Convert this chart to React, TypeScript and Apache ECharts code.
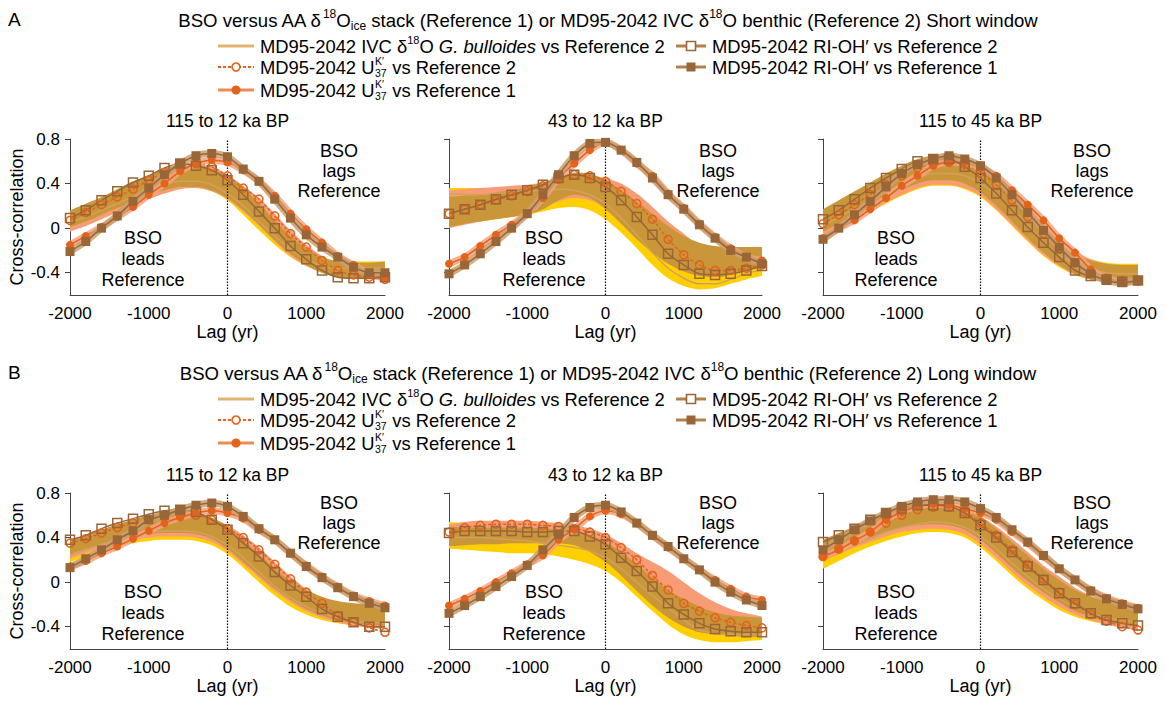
import React, { useEffect, useRef } from "react";
import * as echarts from "echarts";

const LAGS = [-2000, -1800, -1600, -1400, -1200, -1000, -800, -600, -400, -200, 0, 200, 400, 600, 800, 1000, 1200, 1400, 1600, 1800, 2000];

// ---------- A: short window, 115 to 12 ka BP ----------
const A1_R1 = [-0.21, -0.12, 0.0, 0.11, 0.24, 0.36, 0.48, 0.58, 0.65, 0.67, 0.64, 0.53, 0.42, 0.26, 0.09, -0.06, -0.17, -0.26, -0.35, -0.4, -0.4];
const A1_U1 = [-0.15, -0.07, 0.01, 0.1, 0.19, 0.3, 0.4, 0.51, 0.58, 0.61, 0.59, 0.52, 0.42, 0.29, 0.13, -0.01, -0.13, -0.25, -0.33, -0.41, -0.45];
const A1_R2 = [0.09, 0.16, 0.25, 0.33, 0.41, 0.47, 0.54, 0.58, 0.56, 0.52, 0.43, 0.3, 0.15, 0.0, -0.16, -0.28, -0.38, -0.44, -0.45, -0.45, -0.44];
const A1_U2 = [0.07, 0.14, 0.21, 0.28, 0.35, 0.43, 0.5, 0.55, 0.58, 0.55, 0.47, 0.36, 0.26, 0.11, -0.05, -0.17, -0.29, -0.38, -0.42, -0.44, -0.46];
const A1_GB = [0.05, 0.1, 0.16, 0.22, 0.28, 0.34, 0.39, 0.42, 0.42, 0.39, 0.31, 0.2, 0.06, -0.07, -0.19, -0.28, -0.34, -0.36, -0.36, -0.36, -0.36];
const A1_YLO = [0.0, 0.05, 0.1, 0.16, 0.22, 0.28, 0.33, 0.36, 0.36, 0.33, 0.25, 0.12, -0.02, -0.15, -0.26, -0.34, -0.39, -0.41, -0.42, -0.42, -0.42];
const A1_YHI = [0.1, 0.16, 0.22, 0.28, 0.34, 0.4, 0.45, 0.48, 0.48, 0.45, 0.38, 0.28, 0.15, 0.01, -0.12, -0.22, -0.28, -0.3, -0.3, -0.3, -0.3];
const A1_SLO = [-0.03, 0.02, 0.08, 0.14, 0.2, 0.26, 0.31, 0.35, 0.36, 0.33, 0.26, 0.15, 0.02, -0.12, -0.25, -0.34, -0.4, -0.44, -0.45, -0.46, -0.46];
const A1_SHI = [0.12, 0.18, 0.24, 0.31, 0.38, 0.44, 0.5, 0.55, 0.57, 0.55, 0.48, 0.38, 0.27, 0.13, -0.02, -0.15, -0.25, -0.32, -0.35, -0.36, -0.36];
const A1_GLO = [0.01, 0.06, 0.12, 0.18, 0.24, 0.3, 0.34, 0.37, 0.37, 0.34, 0.27, 0.16, 0.03, -0.11, -0.23, -0.33, -0.4, -0.44, -0.45, -0.45, -0.44];
const A1_GHI = [0.16, 0.22, 0.28, 0.35, 0.42, 0.47, 0.53, 0.57, 0.57, 0.53, 0.46, 0.36, 0.22, 0.07, -0.07, -0.18, -0.26, -0.3, -0.31, -0.31, -0.3];

// ---------- A: short window, 43 to 12 ka BP ----------
const A2_R1 = [-0.41, -0.33, -0.23, -0.12, 0.0, 0.13, 0.3, 0.48, 0.65, 0.76, 0.77, 0.7, 0.59, 0.45, 0.3, 0.17, 0.03, -0.09, -0.2, -0.26, -0.32];
const A2_U1 = [-0.32, -0.26, -0.16, -0.06, 0.03, 0.13, 0.27, 0.45, 0.58, 0.7, 0.77, 0.7, 0.58, 0.47, 0.31, 0.18, 0.04, -0.08, -0.18, -0.26, -0.29];
const A2_R2 = [0.13, 0.17, 0.21, 0.26, 0.3, 0.34, 0.39, 0.45, 0.48, 0.45, 0.37, 0.25, 0.1, -0.06, -0.23, -0.33, -0.41, -0.42, -0.41, -0.38, -0.34];
const A2_U2 = [0.13, 0.17, 0.21, 0.25, 0.29, 0.33, 0.38, 0.44, 0.48, 0.47, 0.42, 0.33, 0.22, 0.08, -0.1, -0.24, -0.33, -0.38, -0.38, -0.36, -0.33];
const A2_GB = [0.31, 0.3, 0.3, 0.31, 0.32, 0.33, 0.34, 0.35, 0.34, 0.3, 0.22, 0.09, -0.06, -0.22, -0.36, -0.45, -0.5, -0.5, -0.46, -0.41, -0.37];
const A2_YLO = [0.03, 0.05, 0.06, 0.08, 0.1, 0.12, 0.15, 0.18, 0.19, 0.16, 0.08, -0.04, -0.18, -0.33, -0.45, -0.52, -0.55, -0.54, -0.5, -0.46, -0.43];
const A2_YHI = [0.36, 0.36, 0.36, 0.36, 0.36, 0.37, 0.38, 0.4, 0.42, 0.4, 0.34, 0.24, 0.12, 0.0, -0.12, -0.22, -0.3, -0.33, -0.33, -0.3, -0.26];
const A2_SLO = [0.0, 0.03, 0.06, 0.09, 0.12, 0.15, 0.19, 0.24, 0.27, 0.25, 0.18, 0.07, -0.06, -0.18, -0.29, -0.36, -0.4, -0.41, -0.4, -0.37, -0.34];
const A2_SHI = [0.34, 0.35, 0.36, 0.37, 0.38, 0.39, 0.41, 0.44, 0.47, 0.47, 0.45, 0.4, 0.31, 0.19, 0.06, -0.05, -0.16, -0.23, -0.26, -0.26, -0.25];
const A2_GLO = [0.01, 0.04, 0.06, 0.08, 0.1, 0.12, 0.17, 0.25, 0.3, 0.27, 0.17, 0.04, -0.1, -0.22, -0.32, -0.39, -0.43, -0.44, -0.42, -0.38, -0.35];
const A2_GHI = [0.28, 0.29, 0.3, 0.32, 0.34, 0.37, 0.41, 0.46, 0.5, 0.49, 0.43, 0.34, 0.24, 0.13, 0.02, -0.07, -0.13, -0.16, -0.17, -0.17, -0.17];

// ---------- A: short window, 115 to 45 ka BP ----------
const A3_R1 = [-0.1, 0.0, 0.12, 0.24, 0.37, 0.49, 0.57, 0.62, 0.65, 0.62, 0.56, 0.45, 0.3, 0.14, -0.02, -0.17, -0.31, -0.41, -0.47, -0.49, -0.47];
const A3_U1 = [-0.09, 0.0, 0.07, 0.17, 0.27, 0.38, 0.47, 0.56, 0.59, 0.59, 0.54, 0.47, 0.34, 0.21, 0.07, -0.09, -0.22, -0.37, -0.45, -0.48, -0.48];
const A3_R2 = [0.08, 0.16, 0.26, 0.36, 0.45, 0.53, 0.6, 0.62, 0.62, 0.55, 0.45, 0.31, 0.16, 0.01, -0.13, -0.26, -0.38, -0.43, -0.46, -0.48, -0.47];
const A3_U2 = [0.04, 0.12, 0.21, 0.3, 0.39, 0.47, 0.54, 0.58, 0.59, 0.57, 0.5, 0.39, 0.25, 0.1, -0.05, -0.19, -0.31, -0.4, -0.45, -0.47, -0.47];
const A3_GB = [0.02, 0.1, 0.17, 0.25, 0.32, 0.39, 0.45, 0.49, 0.49, 0.47, 0.4, 0.3, 0.17, 0.03, -0.12, -0.24, -0.32, -0.37, -0.4, -0.41, -0.41];
const A3_YLO = [-0.06, 0.01, 0.08, 0.15, 0.22, 0.29, 0.35, 0.38, 0.38, 0.35, 0.28, 0.16, 0.02, -0.12, -0.25, -0.35, -0.42, -0.46, -0.48, -0.49, -0.49];
const A3_YHI = [0.1, 0.18, 0.26, 0.34, 0.42, 0.49, 0.55, 0.59, 0.6, 0.58, 0.52, 0.43, 0.31, 0.17, 0.02, -0.12, -0.22, -0.28, -0.31, -0.32, -0.32];
const A3_SLO = [-0.05, 0.02, 0.09, 0.16, 0.23, 0.3, 0.36, 0.39, 0.39, 0.36, 0.29, 0.17, 0.03, -0.11, -0.24, -0.34, -0.42, -0.46, -0.48, -0.49, -0.49];
const A3_SHI = [0.12, 0.2, 0.28, 0.36, 0.44, 0.51, 0.57, 0.61, 0.62, 0.6, 0.54, 0.45, 0.33, 0.2, 0.06, -0.08, -0.2, -0.28, -0.32, -0.34, -0.35];
const A3_GLO = [-0.03, 0.04, 0.11, 0.19, 0.27, 0.34, 0.4, 0.43, 0.43, 0.4, 0.32, 0.2, 0.06, -0.09, -0.22, -0.33, -0.41, -0.46, -0.48, -0.5, -0.5];
const A3_GHI = [0.17, 0.25, 0.33, 0.41, 0.49, 0.56, 0.62, 0.65, 0.65, 0.62, 0.55, 0.44, 0.3, 0.15, 0.0, -0.13, -0.23, -0.29, -0.32, -0.33, -0.33];

// ---------- B: long window, 115 to 12 ka BP ----------
const B1_R1 = [0.13, 0.21, 0.29, 0.38, 0.46, 0.56, 0.6, 0.65, 0.69, 0.71, 0.68, 0.59, 0.48, 0.38, 0.26, 0.14, 0.04, -0.05, -0.13, -0.19, -0.23];
const B1_U1 = [0.14, 0.19, 0.26, 0.32, 0.39, 0.46, 0.53, 0.58, 0.62, 0.64, 0.62, 0.57, 0.47, 0.38, 0.26, 0.15, 0.05, -0.04, -0.12, -0.17, -0.21];
const B1_R2 = [0.38, 0.42, 0.48, 0.53, 0.57, 0.61, 0.64, 0.65, 0.63, 0.56, 0.47, 0.35, 0.23, 0.09, -0.03, -0.13, -0.24, -0.31, -0.36, -0.4, -0.4];
const B1_U2 = [0.35, 0.39, 0.44, 0.49, 0.53, 0.56, 0.59, 0.6, 0.6, 0.56, 0.48, 0.4, 0.29, 0.16, 0.03, -0.09, -0.19, -0.3, -0.36, -0.41, -0.45];
const B1_GB = [0.24, 0.29, 0.34, 0.38, 0.42, 0.44, 0.46, 0.46, 0.45, 0.41, 0.33, 0.22, 0.09, -0.04, -0.14, -0.22, -0.28, -0.32, -0.35, -0.36, -0.37];
const B1_YLO = [0.18, 0.23, 0.28, 0.32, 0.35, 0.37, 0.38, 0.38, 0.37, 0.33, 0.25, 0.13, 0.0, -0.12, -0.22, -0.29, -0.34, -0.37, -0.39, -0.4, -0.41];
const B1_YHI = [0.3, 0.35, 0.4, 0.45, 0.49, 0.52, 0.54, 0.55, 0.54, 0.5, 0.42, 0.31, 0.18, 0.05, -0.06, -0.15, -0.22, -0.27, -0.3, -0.32, -0.33];
const B1_SLO = [0.21, 0.26, 0.31, 0.35, 0.38, 0.4, 0.41, 0.41, 0.4, 0.36, 0.28, 0.16, 0.04, -0.08, -0.18, -0.26, -0.32, -0.36, -0.39, -0.41, -0.42];
const B1_SHI = [0.36, 0.41, 0.46, 0.51, 0.55, 0.58, 0.61, 0.62, 0.62, 0.58, 0.51, 0.42, 0.31, 0.18, 0.05, -0.06, -0.14, -0.2, -0.24, -0.27, -0.29];
const B1_GLO = [0.25, 0.3, 0.34, 0.38, 0.41, 0.43, 0.44, 0.44, 0.43, 0.39, 0.3, 0.18, 0.06, -0.06, -0.16, -0.24, -0.3, -0.34, -0.37, -0.38, -0.39];
const B1_GHI = [0.38, 0.42, 0.47, 0.52, 0.56, 0.6, 0.63, 0.64, 0.63, 0.58, 0.5, 0.38, 0.25, 0.12, 0.01, -0.07, -0.13, -0.17, -0.19, -0.2, -0.21];

// ---------- B: long window, 43 to 12 ka BP ----------
const B2_R1 = [-0.28, -0.21, -0.13, -0.04, 0.05, 0.15, 0.29, 0.43, 0.58, 0.67, 0.69, 0.63, 0.53, 0.42, 0.32, 0.21, 0.11, 0.0, -0.09, -0.16, -0.21];
const B2_U1 = [-0.21, -0.15, -0.08, 0.0, 0.08, 0.16, 0.24, 0.38, 0.48, 0.59, 0.64, 0.61, 0.53, 0.42, 0.31, 0.21, 0.11, 0.02, -0.06, -0.13, -0.16];
const B2_R2 = [0.44, 0.46, 0.46, 0.46, 0.46, 0.45, 0.45, 0.46, 0.46, 0.41, 0.34, 0.22, 0.1, -0.04, -0.19, -0.29, -0.37, -0.42, -0.44, -0.45, -0.45];
const B2_U2 = [0.45, 0.49, 0.51, 0.52, 0.52, 0.52, 0.51, 0.5, 0.48, 0.45, 0.4, 0.31, 0.2, 0.06, -0.07, -0.19, -0.26, -0.32, -0.36, -0.39, -0.41];
const B2_GB = [0.4, 0.4, 0.4, 0.39, 0.38, 0.37, 0.35, 0.33, 0.31, 0.28, 0.22, 0.12, 0.0, -0.12, -0.23, -0.34, -0.43, -0.46, -0.47, -0.47, -0.47];
const B2_YLO = [0.3, 0.29, 0.28, 0.27, 0.26, 0.26, 0.25, 0.23, 0.2, 0.16, 0.1, 0.0, -0.13, -0.26, -0.38, -0.47, -0.52, -0.54, -0.54, -0.53, -0.52];
const B2_YHI = [0.54, 0.53, 0.52, 0.51, 0.5, 0.49, 0.48, 0.46, 0.44, 0.4, 0.34, 0.25, 0.13, 0.01, -0.1, -0.2, -0.28, -0.33, -0.35, -0.36, -0.36];
const B2_SLO = [0.34, 0.36, 0.37, 0.38, 0.38, 0.38, 0.38, 0.37, 0.35, 0.3, 0.22, 0.11, -0.01, -0.14, -0.25, -0.34, -0.4, -0.43, -0.45, -0.46, -0.47];
const B2_SHI = [0.52, 0.54, 0.55, 0.55, 0.55, 0.55, 0.54, 0.53, 0.51, 0.48, 0.43, 0.35, 0.26, 0.18, 0.1, 0.0, -0.1, -0.18, -0.24, -0.28, -0.31];
const B2_GLO = [0.32, 0.33, 0.34, 0.34, 0.35, 0.35, 0.35, 0.35, 0.33, 0.27, 0.18, 0.06, -0.08, -0.21, -0.32, -0.4, -0.45, -0.47, -0.48, -0.49, -0.49];
const B2_GHI = [0.5, 0.49, 0.49, 0.49, 0.49, 0.49, 0.48, 0.47, 0.46, 0.42, 0.36, 0.27, 0.16, 0.04, -0.07, -0.15, -0.22, -0.27, -0.3, -0.31, -0.32];

// ---------- B: long window, 115 to 45 ka BP ----------
const B3_R1 = [0.29, 0.38, 0.47, 0.55, 0.62, 0.68, 0.72, 0.74, 0.74, 0.72, 0.66, 0.58, 0.47, 0.36, 0.24, 0.12, 0.02, -0.08, -0.15, -0.2, -0.24];
const B3_U1 = [0.23, 0.29, 0.37, 0.45, 0.56, 0.63, 0.68, 0.7, 0.69, 0.66, 0.62, 0.56, 0.45, 0.35, 0.23, 0.12, 0.02, -0.07, -0.14, -0.19, -0.23];
const B3_R2 = [0.36, 0.42, 0.48, 0.56, 0.62, 0.66, 0.69, 0.69, 0.68, 0.62, 0.51, 0.4, 0.27, 0.14, 0.02, -0.1, -0.19, -0.28, -0.34, -0.37, -0.39];
const B3_U2 = [0.23, 0.3, 0.37, 0.45, 0.53, 0.6, 0.65, 0.67, 0.67, 0.63, 0.53, 0.42, 0.29, 0.16, 0.03, -0.09, -0.2, -0.29, -0.35, -0.4, -0.43];
const B3_GB = [0.2, 0.26, 0.33, 0.39, 0.45, 0.49, 0.52, 0.54, 0.53, 0.49, 0.41, 0.3, 0.17, 0.05, -0.06, -0.15, -0.22, -0.28, -0.32, -0.34, -0.36];
const B3_YLO = [0.12, 0.19, 0.26, 0.32, 0.37, 0.41, 0.44, 0.45, 0.44, 0.4, 0.31, 0.19, 0.06, -0.06, -0.16, -0.25, -0.31, -0.35, -0.38, -0.4, -0.41];
const B3_YHI = [0.28, 0.34, 0.4, 0.46, 0.52, 0.57, 0.61, 0.63, 0.62, 0.58, 0.5, 0.4, 0.28, 0.16, 0.05, -0.05, -0.14, -0.2, -0.25, -0.28, -0.3];
const B3_SLO = [0.2, 0.25, 0.31, 0.36, 0.41, 0.45, 0.47, 0.48, 0.47, 0.43, 0.34, 0.22, 0.09, -0.03, -0.13, -0.22, -0.29, -0.34, -0.38, -0.41, -0.43];
const B3_SHI = [0.34, 0.4, 0.47, 0.53, 0.59, 0.64, 0.68, 0.7, 0.69, 0.66, 0.59, 0.5, 0.39, 0.27, 0.15, 0.05, -0.05, -0.12, -0.17, -0.21, -0.24];
const B3_GLO = [0.24, 0.29, 0.35, 0.4, 0.45, 0.49, 0.51, 0.52, 0.51, 0.47, 0.38, 0.26, 0.13, 0.01, -0.09, -0.18, -0.26, -0.31, -0.35, -0.38, -0.4];
const B3_GHI = [0.38, 0.44, 0.5, 0.56, 0.62, 0.67, 0.7, 0.71, 0.7, 0.67, 0.59, 0.48, 0.36, 0.24, 0.12, 0.02, -0.07, -0.13, -0.17, -0.2, -0.22];

const PANEL_TITLES = ["115 to 12 ka BP", "43 to 12 ka BP", "115 to 45 ka BP"];
const X_LABELS = [-2000, -1000, 0, 1000, 2000];
const Y_TICKS = [-0.4, 0, 0.4, 0.8];
const Y_MIN = -0.6;
const Y_MAX = 0.8;

const PANELS = [
  { gb: A1_GB, u2: A1_U2, u1: A1_U1, r2: A1_R2, r1: A1_R1, yl: A1_YLO, yh: A1_YHI, sl: A1_SLO, sh: A1_SHI, gl: A1_GLO, gh: A1_GHI },
  { gb: A2_GB, u2: A2_U2, u1: A2_U1, r2: A2_R2, r1: A2_R1, yl: A2_YLO, yh: A2_YHI, sl: A2_SLO, sh: A2_SHI, gl: A2_GLO, gh: A2_GHI },
  { gb: A3_GB, u2: A3_U2, u1: A3_U1, r2: A3_R2, r1: A3_R1, yl: A3_YLO, yh: A3_YHI, sl: A3_SLO, sh: A3_SHI, gl: A3_GLO, gh: A3_GHI },
  { gb: B1_GB, u2: B1_U2, u1: B1_U1, r2: B1_R2, r1: B1_R1, yl: B1_YLO, yh: B1_YHI, sl: B1_SLO, sh: B1_SHI, gl: B1_GLO, gh: B1_GHI },
  { gb: B2_GB, u2: B2_U2, u1: B2_U1, r2: B2_R2, r1: B2_R1, yl: B2_YLO, yh: B2_YHI, sl: B2_SLO, sh: B2_SHI, gl: B2_GLO, gh: B2_GHI },
  { gb: B3_GB, u2: B3_U2, u1: B3_U1, r2: B3_R2, r1: B3_R1, yl: B3_YLO, yh: B3_YHI, sl: B3_SLO, sh: B3_SHI, gl: B3_GLO, gh: B3_GHI },
];

// ---------- styling ----------
const FONT = '"Liberation Sans", Arial, Helvetica, sans-serif';
const YELLOW = "#FFCF00";
const SALMON = "#F89C76";
const GOLD = "#C99639";
const ORANGE = "#E3621C";
const BROWN = "#9A6638";
const TAN = "#D2A25A";
const HALO_U = "#F5A37F";
const HALO_R = "#C9A06E";

const COL_LEFT = [70, 449, 823];
const COL_WIDTH = [315, 313, 315];
const ROW_TOP = [139, 493];
const PLOT_H = 156;
const SECTION_OFF = [0, 353];

let measureCtx: CanvasRenderingContext2D | null = null;
function textWidth(t: string, size: number, italic = false): number {
  if (!measureCtx) measureCtx = document.createElement("canvas").getContext("2d");
  measureCtx!.font = `${italic ? "italic " : ""}${size}px ${FONT}`;
  return measureCtx!.measureText(t).width;
}

type Seg = { t?: string; k?: "sup" | "sub" | "it"; st?: [string, string] };

function richText(segs: Seg[], x: number, y: number, size: number, align: "left" | "center"): any[] {
  const small = Math.round(size * 0.62);
  const stackSize = 10.5;
  const parts = segs.map((s) => {
    if (s.st) return { w: Math.max(textWidth(s.st[0], stackSize), textWidth(s.st[1], stackSize)) + 1, s };
    if (s.k === "sup" || s.k === "sub") return { w: textWidth(s.t!, small), s };
    return { w: textWidth(s.t!, size, s.k === "it"), s };
  });
  const total = parts.reduce((a, p) => a + p.w, 0);
  let cx = align === "center" ? x - total / 2 : x;
  const els: any[] = [];
  const mk = (text: string, px: number, py: number, fs: number, italic = false, lh?: number) => ({
    type: "text",
    x: px,
    y: py,
    silent: true,
    style: {
      text,
      fontSize: fs,
      lineHeight: lh,
      fontFamily: FONT,
      fontStyle: italic ? "italic" : "normal",
      fill: "#000",
      align: "left",
      verticalAlign: "middle",
    },
  });
  for (const p of parts) {
    const s = p.s;
    if (s.st) {
      els.push(mk(s.st[0], cx + 0.5, y - 6.5, stackSize, false, 10));
      els.push(mk(s.st[1], cx + 0.5, y + 5.5, stackSize, false, 10));
    } else if (s.k === "sup") {
      els.push(mk(s.t!, cx, y - size * 0.34, small));
    } else if (s.k === "sub") {
      els.push(mk(s.t!, cx, y + size * 0.3, small));
    } else {
      els.push(mk(s.t!, cx, y, size, s.k === "it"));
    }
    cx += p.w;
  }
  return els;
}

const TITLE_SEGS = (win: string): Seg[] => [
  { t: "BSO versus AA δ" },
  { t: "18", k: "sup" },
  { t: "O" },
  { t: "ice", k: "sub" },
  { t: " stack (Reference 1) or MD95-2042 IVC δ" },
  { t: "18", k: "sup" },
  { t: `O benthic (Reference 2) ${win} window` },
];
const SECTION_LETTERS = ["A", "B"];
const SECTION_WINDOWS = ["Short", "Long"];

const LEGEND_ITEMS: { key: string; segs: Seg[]; col: number; row: number }[] = [
  { key: "gb", col: 0, row: 0, segs: [{ t: "MD95-2042 IVC δ" }, { t: "18", k: "sup" }, { t: "O " }, { t: "G. bulloides", k: "it" }, { t: " vs Reference 2" }] },
  { key: "u2", col: 0, row: 1, segs: [{ t: "MD95-2042 U" }, { st: ["K′", "37"] }, { t: " vs Reference 2" }] },
  { key: "u1", col: 0, row: 2, segs: [{ t: "MD95-2042 U" }, { st: ["K′", "37"] }, { t: " vs Reference 1" }] },
  { key: "r2", col: 1, row: 0, segs: [{ t: "MD95-2042 RI-OH′ vs Reference 2" }] },
  { key: "r1", col: 1, row: 1, segs: [{ t: "MD95-2042 RI-OH′ vs Reference 1" }] },
];
const LEG_SYM_X = [[218, 254], [676, 706]];
const LEG_TEXT_X = [260, 712];
const LEG_ROW_Y = [46, 67, 90];

function legendSymbol(key: string, x1: number, x2: number, y: number): any[] {
  const cx = (x1 + x2) / 2;
  const line = (stroke: string, w: number, dash?: number[]) => ({
    type: "line",
    silent: true,
    shape: { x1, y1: y, x2, y2: y },
    style: { stroke, lineWidth: w, lineDash: dash },
  });
  if (key === "gb") return [line("#E2B36E", 3)];
  if (key === "u2")
    return [line(ORANGE, 2, [3, 2]), { type: "circle", silent: true, shape: { cx, cy: y, r: 4 }, style: { fill: "#fff", stroke: ORANGE, lineWidth: 1.6 } }];
  if (key === "u1")
    return [line("#EE8B55", 3), { type: "circle", silent: true, shape: { cx, cy: y, r: 4.5 }, style: { fill: ORANGE } }];
  if (key === "r2")
    return [line("#B0804F", 3), { type: "rect", silent: true, shape: { x: cx - 4.5, y: y - 4.5, width: 9, height: 9 }, style: { fill: "#fff", stroke: BROWN, lineWidth: 1.6 } }];
  return [line("#B0804F", 3), { type: "rect", silent: true, shape: { x: cx - 4.5, y: y - 4.5, width: 9, height: 9 }, style: { fill: BROWN } }];
}

function buildOption() {
  const grids: any[] = [];
  const xAxes: any[] = [];
  const yAxes: any[] = [];
  const series: any[] = [];
  const graphics: any[] = [];
  const cats = LAGS.map(String);
  const zeroCat = String(0);

  PANELS.forEach((p, i) => {
    const row = Math.floor(i / 3);
    const col = i % 3;
    const left = COL_LEFT[col];
    const top = ROW_TOP[row];
    const width = COL_WIDTH[col];
    grids.push({ left, top, width, height: PLOT_H, containLabel: false });
    xAxes.push({
      type: "category",
      gridIndex: i,
      data: cats,
      boundaryGap: false,
      axisLine: { show: true, onZero: false, lineStyle: { color: "#444", width: 1 } },
      axisTick: { show: false },
      splitLine: { show: false },
      axisLabel: {
        fontSize: 17,
        color: "#000",
        fontFamily: FONT,
        margin: 10,
        interval: (_idx: number, v: string) => X_LABELS.includes(Number(v)),
        showMinLabel: true,
        showMaxLabel: true,
        hideOverlap: false,
      },
      name: "Lag (yr)",
      nameLocation: "middle",
      nameGap: 28,
      nameTextStyle: { fontSize: 18, color: "#000", fontFamily: FONT },
    });
    yAxes.push({
      type: "value",
      gridIndex: i,
      min: Y_MIN,
      max: Y_MAX,
      axisLine: { show: true, onZero: false, lineStyle: { color: "#444", width: 1 } },
      axisTick: { show: true, length: 5, customValues: Y_TICKS, lineStyle: { color: "#444" } },
      splitLine: { show: false },
      axisLabel: {
        show: col === 0,
        customValues: Y_TICKS,
        fontSize: 17,
        color: "#000",
        fontFamily: FONT,
        margin: 10,
        formatter: (v: number) => String(v),
      },
      name: col === 0 ? "Cross-correlation" : "",
      nameLocation: "middle",
      nameGap: 44,
      nameTextStyle: { fontSize: 18, color: "#000", fontFamily: FONT },
    });

    const base = { type: "line", xAxisIndex: i, yAxisIndex: i, silent: true, animation: false };
    const band = (lo: number[], hi: number[], color: string, name: string) => [
      {
        ...base,
        name: `${name}-lo-${i}`,
        stack: `band-${name}-${i}`,
        stackStrategy: "all",
        smooth: 0.3,
        symbol: "none",
        lineStyle: { opacity: 0, width: 0 },
        data: lo,
      },
      {
        ...base,
        name: `${name}-hi-${i}`,
        stack: `band-${name}-${i}`,
        stackStrategy: "all",
        smooth: 0.3,
        symbol: "none",
        lineStyle: { opacity: 0, width: 0 },
        areaStyle: { color, opacity: 1 },
        data: hi.map((h, k) => +(h - lo[k]).toFixed(4)),
      },
    ];
    const markerLine = (arr: number[], color: string, symbol: string, size: number, filled: boolean, dashed: boolean) => ({
      ...base,
      smooth: 0.25,
      symbol,
      symbolSize: size,
      showSymbol: true,
      showAllSymbol: true,
      lineStyle: { color, width: 1.5, type: dashed ? [3, 2] : "solid" },
      itemStyle: filled ? { color } : { color: "rgba(0,0,0,0)", borderColor: color, borderWidth: 1.5 },
      data: arr,
    });
    const halo = (arr: number[], color: string) => ({
      ...base,
      smooth: 0.25,
      symbol: "none",
      lineStyle: { color, width: 7, opacity: 0.85 },
      data: arr,
    });

    series.push(...band(p.yl, p.yh, YELLOW, "y"));
    series.push({ ...base, smooth: 0.3, symbol: "none", lineStyle: { color: TAN, width: 1.5 }, data: p.gb });
    series.push(...band(p.sl, p.sh, SALMON, "s"));
    series.push(markerLine(p.u2, ORANGE, "circle", 8, false, true));
    series.push(...band(p.gl, p.gh, GOLD, "g"));
    series.push({
      ...base,
      symbol: "none",
      lineStyle: { color: "#000", width: 1.2, type: [1.5, 1.5] },
      data: [[zeroCat, Y_MIN], [zeroCat, Y_MAX]],
    });
    series.push(halo(p.u1, HALO_U));
    series.push(markerLine(p.u1, ORANGE, "circle", 8, true, false));
    series.push(markerLine(p.r2, BROWN, "rect", 9, false, false));
    series.push(halo(p.r1, HALO_R));
    series.push(markerLine(p.r1, BROWN, "rect", 9, true, false));

    graphics.push({
      type: "text",
      x: left + width / 2,
      y: top - 18,
      silent: true,
      style: { text: PANEL_TITLES[col], fontSize: 17.5, fontFamily: FONT, fill: "#000", align: "center", verticalAlign: "middle" },
    });
    const leadDx = col === 1 ? 95 : 73;
    graphics.push({
      type: "text",
      x: left + leadDx,
      y: top + 120,
      silent: true,
      style: { text: "BSO\nleads\nReference", fontSize: 18, lineHeight: 21, fontFamily: FONT, fill: "#000", align: "center", verticalAlign: "middle" },
    });
    graphics.push({
      type: "text",
      x: left + 269,
      y: top + (row === 0 ? 32 : 30),
      silent: true,
      style: { text: "BSO\nlags\nReference", fontSize: 18, lineHeight: 20, fontFamily: FONT, fill: "#000", align: "center", verticalAlign: "middle" },
    });
  });

  SECTION_OFF.forEach((off, s) => {
    graphics.push({
      type: "text",
      x: 8,
      y: 19 + off,
      silent: true,
      style: { text: SECTION_LETTERS[s], fontSize: 19, fontFamily: FONT, fill: "#000", align: "left", verticalAlign: "middle" },
    });
    graphics.push(...richText(TITLE_SEGS(SECTION_WINDOWS[s]), 608, 20 + off, 18.6, "center"));
    LEGEND_ITEMS.forEach((it) => {
      const y = LEG_ROW_Y[it.row] + off;
      const [x1, x2] = LEG_SYM_X[it.col];
      graphics.push(...legendSymbol(it.key, x1, x2, y));
      graphics.push(...richText(it.segs, LEG_TEXT_X[it.col], y, 18.4, "left"));
    });
  });

  return {
    animation: false,
    backgroundColor: "#fff",
    grid: grids,
    xAxis: xAxes,
    yAxis: yAxes,
    series,
    graphic: { elements: graphics },
  };
}

export default function App() {
  const ref = useRef<HTMLDivElement>(null);
  useEffect(() => {
    if (!ref.current) return;
    const chart = echarts.init(ref.current, undefined, { renderer: "svg" });
    chart.setOption(buildOption() as any);
    return () => chart.dispose();
  }, []);
  return <div ref={ref} style={{ position: "fixed", left: 0, top: 0, width: 1165, height: 705, background: "#fff" }} />;
}
